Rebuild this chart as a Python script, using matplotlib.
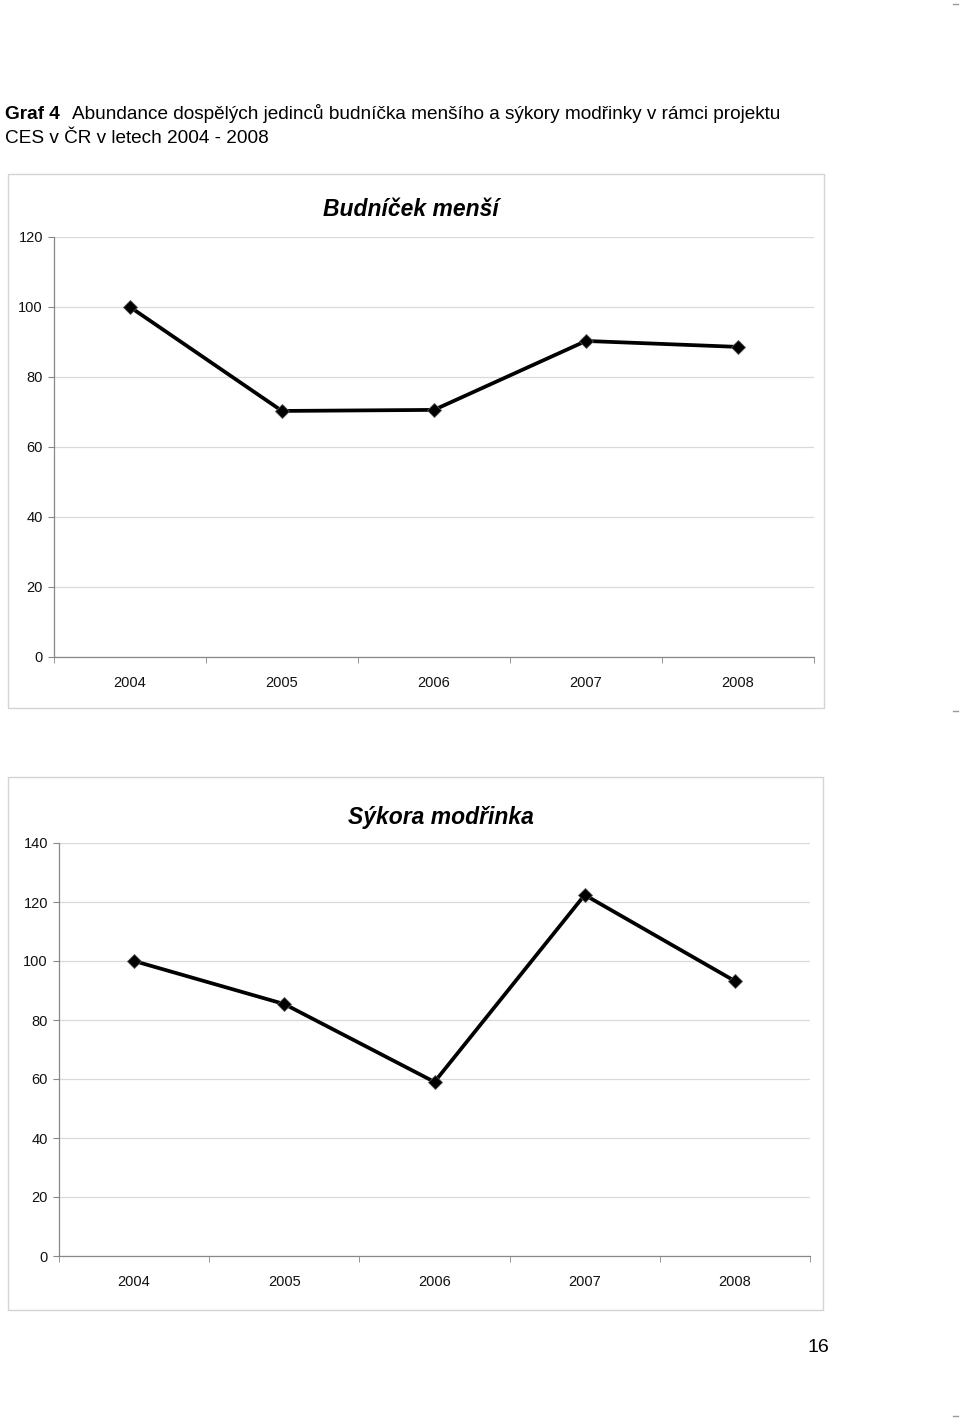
import numpy as np
import matplotlib.pyplot as plt
from matplotlib.patches import Rectangle
from matplotlib import font_manager

# data
years = ["2004", "2005", "2006", "2007", "2008"]
budnicek = [100, 70.3, 70.6, 90.3, 88.6]
sykora = [100, 85.4, 59.0, 122.4, 93.2]

names = {f.name for f in font_manager.fontManager.ttflist}
narrow = "Liberation Sans Narrow" if "Liberation Sans Narrow" in names else "Liberation Sans"

W, H = 960, 1419
fig = plt.figure(figsize=(W / 100, H / 100), dpi=100)
fig.patch.set_facecolor("white")

def fx(px):
    return px / W

def fy(py):
    return 1 - py / H

# page heading
fig.text(fx(5), fy(119), "Graf 4", fontsize=13.7, fontweight="bold",
         family="Liberation Sans", va="baseline")
fig.text(fx(72), fy(119),
         "Abundance dospělých jedinců budníčka menšího a sýkory modřinky v rámci projektu",
         fontsize=13.7, family="Liberation Sans", va="baseline")
fig.text(fx(5), fy(143), "CES v ČR v letech 2004 - 2008", fontsize=13.7,
         family="Liberation Sans", va="baseline")
fig.text(fx(818), fy(1347), "16", fontsize=14, family="Liberation Sans",
         ha="center", va="center")

# tiny marks on right edge
for y in [4, 711, 1416]:
    fig.add_artist(plt.Line2D([fx(953), fx(958)], [fy(y), fy(y)],
                              color="#999999", lw=1))


def draw_chart(frame, ax_box, values, ymax, title, title_xy):
    x0, y0, x1, y1 = frame
    fig.add_artist(Rectangle((fx(x0), fy(y1)), fx(x1 - x0), (y1 - y0) / H,
                             transform=fig.transFigure, fill=False,
                             edgecolor="#d4d4d4", lw=1))
    l, t, r, b = ax_box
    ax = fig.add_axes([fx(l), fy(b), fx(r - l), (b - t) / H])
    x = np.arange(len(years))
    ax.plot(x, values, color="black", lw=2.7, marker="D", markersize=7.5,
            markerfacecolor="black", markeredgecolor="#555555",
            markeredgewidth=0.6, zorder=3, clip_on=False)
    ax.set_xlim(-0.5, len(years) - 0.5)
    ax.set_ylim(0, ymax)
    ax.set_yticks(np.arange(0, ymax + 1, 20))
    ax.set_xticks(x)
    ax.set_xticklabels(years)
    ax.set_xticks(np.arange(-0.5, len(years), 1), minor=True)
    ax.tick_params(axis="x", which="major", length=0, pad=14)
    ax.tick_params(axis="x", which="minor", length=4, color="#888888")
    ax.tick_params(axis="y", length=4, color="#888888", pad=4)
    for lab in ax.get_xticklabels() + ax.get_yticklabels():
        lab.set_family(narrow)
        lab.set_fontsize(10.5)
        lab.set_color("#111111")
    ax.grid(axis="y", color="#d9d9d9", lw=0.9)
    ax.set_axisbelow(True)
    for s in ["top", "right"]:
        ax.spines[s].set_visible(False)
    for s in ["left", "bottom"]:
        ax.spines[s].set_color("#888888")
        ax.spines[s].set_linewidth(0.9)
    fig.text(fx(title_xy[0]), fy(title_xy[1]), title, fontsize=16.5,
             fontweight="bold", fontstyle="italic", family=narrow,
             ha="center", va="center")
    return ax


draw_chart((8, 174, 824, 708), (54, 237, 814, 657), budnicek, 120,
           "Budníček menší", (411, 209))
draw_chart((8, 777, 823, 1310), (59, 843, 810, 1256), sykora, 140,
           "Sýkora modřinka", (441, 817))

fig.savefig("out.png", dpi=100)
